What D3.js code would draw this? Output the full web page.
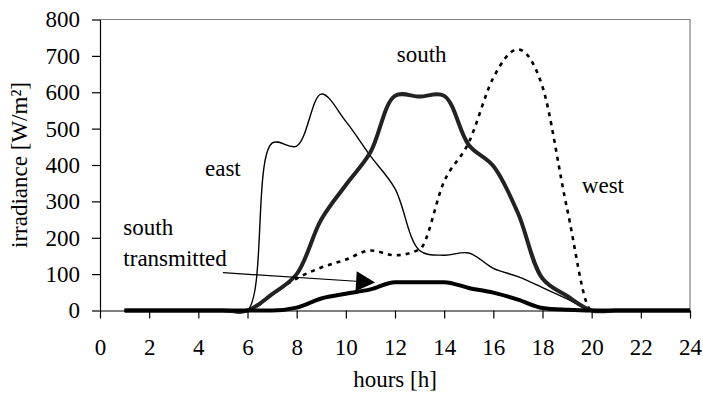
<!DOCTYPE html>
<html>
<head>
<meta charset="utf-8">
<script src="https://cdn.jsdelivr.net/npm/d3@7"></script>
<style>
  body { margin: 0; background: #fff; }
</style>
</head>
<body>
<div id="chart"></div>
<script>
const WIDTH = 703;
const HEIGHT = 394;
const FONT = "'Liberation Serif'";

// data, hourly values in W/m²
const hours = [1, 2, 3, 4, 5, 6, 7, 8, 9, 10, 11, 12, 13, 14, 15, 16, 17, 18, 19, 20, 21, 22, 23, 24];
const east = [0, 0, 0, 0, 0, 0, 460, 452, 595, 520, 425, 335, 165, 152, 158, 116, 93, 63, 32, 0, 0, 0, 0, 0];
const west = [0, 0, 0, 0, 0, 0, 45, 88, 118, 140, 165, 152, 168, 355, 462, 640, 718, 615, 280, 0, 0, 0, 0, 0];
const south = [0, 0, 0, 0, 0, 0, 45, 100, 250, 345, 435, 590, 588, 590, 455, 397, 268, 88, 40, 0, 0, 0, 0, 0];
const southTransmitted = [0, 0, 0, 0, 0, 0, 0, 8, 33, 46, 58, 78, 78, 78, 62, 49, 30, 7, 2, 0, 0, 0, 0, 0];

const xTicks = d3.range(0, 25, 2);
const yTicks = d3.range(0, 801, 100);

const margin = {top: 19.5, right: 13, bottom: 83.5, left: 100};

let svg = d3.select("#chart")
    .append("svg")
    .attr("width", WIDTH)
    .attr("height", HEIGHT);

let x = d3.scaleLinear()
    .domain([0, 24])
    .range([margin.left, WIDTH - margin.right]);

let y = d3.scaleLinear()
    .domain([0, 800])
    .range([HEIGHT - margin.bottom, margin.top]);

// plot frame (top and right in grey)
svg.append("path")
    .attr("d", `M${x(0)},${y(800)}H${x(24)}V${y(0)}`)
    .attr("fill", "none")
    .attr("stroke", "#808080")
    .attr("stroke-width", 1.2);

let xAxis = svg.append("g")
    .attr("transform", `translate(0,${y(0)})`)
    .call(d3.axisBottom(x).tickValues(xTicks).tickSize(8).tickSizeOuter(0).tickPadding(20));

let yAxis = svg.append("g")
    .attr("transform", `translate(${x(0)},0)`)
    .call(d3.axisLeft(y).tickValues(yTicks).tickSize(8).tickSizeOuter(0).tickPadding(12));

[xAxis, yAxis].forEach(a => {
    a.attr("font-family", "Liberation Serif").attr("font-size", 23);
    a.selectAll("text")
        .style("font-family", FONT)
        .style("font-size", "23px")
        .attr("fill", "#000");
    a.selectAll("line").attr("stroke", "#000").attr("stroke-width", 1.2);
    a.select(".domain").attr("stroke", "#000").attr("stroke-width", 1.2);
});

svg.append("text")
    .attr("x", (x(0) + x(24)) / 2)
    .attr("y", 386.5)
    .attr("text-anchor", "middle")
    .style("font-family", FONT)
    .style("font-size", "23px")
    .text("hours [h]");

svg.append("text")
    .attr("transform", `translate(27,${(y(0) + y(800)) / 2}) rotate(-90)`)
    .attr("text-anchor", "middle")
    .style("font-family", FONT)
    .style("font-size", "23px")
    .text("irradiance [W/m²]");

// smoothed lines like the original spreadsheet chart
let smoothLine = d3.line()
    .x((d, i) => x(hours[i]))
    .y(d => y(d))
    .curve(d3.curveCatmullRom.alpha(0.5));

// monotone where the curve must not dip below zero or wave on a plateau
let flatLine = d3.line()
    .x((d, i) => x(hours[i]))
    .y(d => y(d))
    .curve(d3.curveMonotoneX);

svg.append("path")
    .datum(east)
    .attr("d", smoothLine)
    .attr("fill", "none")
    .attr("stroke", "#000")
    .attr("stroke-width", 1.4);

svg.append("path")
    .datum(west)
    .attr("d", flatLine)
    .attr("fill", "none")
    .attr("stroke", "#000")
    .attr("stroke-width", 2.6)
    .attr("stroke-dasharray", "4,5");

svg.append("path")
    .datum(south)
    .attr("d", smoothLine)
    .attr("fill", "none")
    .attr("stroke", "#222")
    .attr("stroke-width", 4)
    .attr("stroke-linejoin", "round");

svg.append("path")
    .datum(southTransmitted)
    .attr("d", flatLine)
    .attr("fill", "none")
    .attr("stroke", "#000")
    .attr("stroke-width", 4)
    .attr("stroke-linejoin", "round");

// series labels
const labels = [
    {text: "east", h: 4.27, v: 370},
    {text: "south", h: 12.07, v: 684},
    {text: "west", h: 19.6, v: 323},
    {text: "south", h: 0.95, v: 208},
    {text: "transmitted", h: 0.95, v: 121}
];

svg.selectAll("text.label")
    .data(labels)
    .enter()
    .append("text")
    .attr("class", "label")
    .attr("x", d => x(d.h))
    .attr("y", d => y(d.v))
    .style("font-family", FONT)
    .style("font-size", "23px")
    .text(d => d.text);

// arrow pointing to the transmitted curve
let ax1 = x(5.0), ay1 = y(104);
let ax2 = x(11.19), ay2 = y(77);
let ang = Math.atan2(ay2 - ay1, ax2 - ax1);
let headLen = 19, headHalf = 10;
let bx = ax2 - headLen * Math.cos(ang), by = ay2 - headLen * Math.sin(ang);

svg.append("line")
    .attr("x1", ax1)
    .attr("y1", ay1)
    .attr("x2", bx)
    .attr("y2", by)
    .attr("stroke", "#000")
    .attr("stroke-width", 1.2);

svg.append("path")
    .attr("d", `M${ax2},${ay2}L${bx - headHalf * Math.sin(ang)},${by + headHalf * Math.cos(ang)}L${bx + headHalf * Math.sin(ang)},${by - headHalf * Math.cos(ang)}Z`)
    .attr("fill", "#000");
</script>
</body>
</html>
